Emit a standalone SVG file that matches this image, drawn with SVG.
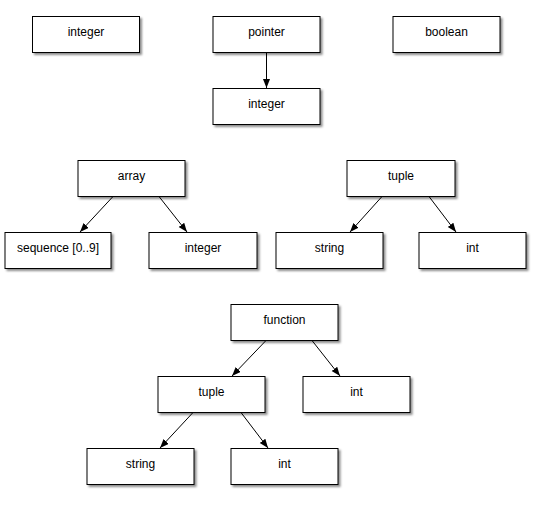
<svg xmlns="http://www.w3.org/2000/svg" width="533" height="506" viewBox="0 0 533 506">
<style>
.node rect{fill:#fff;stroke:#000;stroke-width:1;filter:url(#sh)}
.node text{font-family:"Liberation Sans",Arial,sans-serif;font-size:12px;fill:#000;text-anchor:middle}
.edges line{stroke:#000;stroke-width:1;marker-end:url(#arr)}
</style>
<defs>
<filter id="sh" x="-10%" y="-10%" width="130%" height="140%">
<feDropShadow dx="2" dy="2" stdDeviation="1" flood-color="#000" flood-opacity="0.45"/>
</filter>
<marker id="arr" markerUnits="userSpaceOnUse" markerWidth="10" markerHeight="8" refX="9" refY="3.5" orient="auto">
<path d="M0,0 L9,3.5 L0,7 z" fill="#000"/>
</marker>
</defs>
<rect width="533" height="506" fill="#fff"/>
<g class="edges" id="edges">
<line x1="266.5" y1="52.5" x2="266.5" y2="88"/>
<line x1="113" y1="196.5" x2="80" y2="232"/>
<line x1="159" y1="196.5" x2="187" y2="232"/>
<line x1="382" y1="196.5" x2="350" y2="232"/>
<line x1="429" y1="196.5" x2="456" y2="232"/>
<line x1="266" y1="340.5" x2="232" y2="376"/>
<line x1="312" y1="340.5" x2="340" y2="376"/>
<line x1="193" y1="412.5" x2="160" y2="448"/>
<line x1="241" y1="412.5" x2="268" y2="448"/>
</g>
<g class="node" id="n-integer"><rect x="32.5" y="16.5" width="107" height="36"/><text x="86" y="36">integer</text></g>
<g class="node" id="n-pointer"><rect x="213" y="16.5" width="107" height="36"/><text x="266.5" y="36">pointer</text></g>
<g class="node" id="n-boolean"><rect x="393" y="16.5" width="107" height="36"/><text x="446.5" y="36">boolean</text></g>
<g class="node" id="n-integer2"><rect x="213" y="88.5" width="107" height="36"/><text x="266.5" y="108">integer</text></g>
<g class="node" id="n-array"><rect x="78" y="160.5" width="107" height="36"/><text x="131.5" y="180">array</text></g>
<g class="node" id="n-tuple"><rect x="347" y="160.5" width="108" height="36"/><text x="401" y="180">tuple</text></g>
<g class="node" id="n-sequence"><rect x="5" y="232.5" width="106" height="36"/><text x="58" y="252">sequence [0..9]</text></g>
<g class="node" id="n-integer3"><rect x="149" y="232.5" width="108" height="36"/><text x="203" y="252">integer</text></g>
<g class="node" id="n-string"><rect x="276" y="232.5" width="107" height="36"/><text x="329.5" y="252">string</text></g>
<g class="node" id="n-int"><rect x="419" y="232.5" width="107" height="36"/><text x="472.5" y="252">int</text></g>
<g class="node" id="n-function"><rect x="231" y="304.5" width="107" height="36"/><text x="284.5" y="324">function</text></g>
<g class="node" id="n-tuple2"><rect x="158" y="376.5" width="107" height="36"/><text x="211.5" y="396">tuple</text></g>
<g class="node" id="n-int2"><rect x="303" y="376.5" width="107" height="36"/><text x="356.5" y="396">int</text></g>
<g class="node" id="n-string2"><rect x="87" y="448.5" width="107" height="36"/><text x="140.5" y="468">string</text></g>
<g class="node" id="n-int3"><rect x="231" y="448.5" width="107" height="36"/><text x="284.5" y="468">int</text></g>
</svg>
